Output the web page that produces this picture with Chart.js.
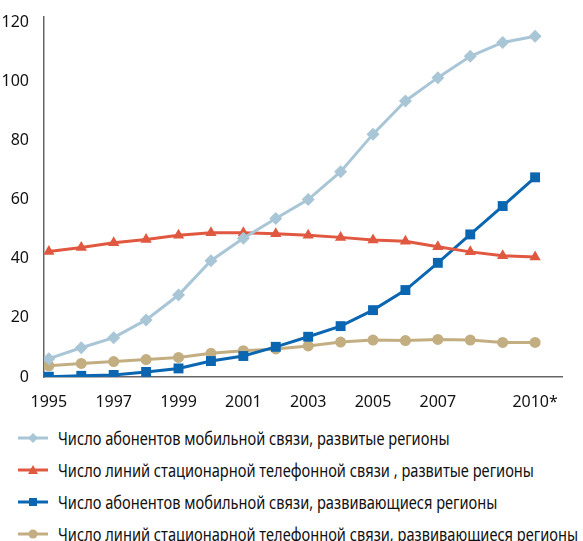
<!DOCTYPE html>
<html lang="ru">
<head>
  <meta charset="UTF-8">
  <title>Телефонная и мобильная связь, 1995–2010</title>
  <style>
    body {
      margin: 0;
      background: #fff;
      font-family: "Noto Sans", sans-serif;
    }
    #wrap { position: relative; width: 583px; height: 541px; overflow: hidden; }
    #chart { position: absolute; left: 0; top: 0; }
    #legend { position: absolute; left: 18px; top: 422px; }
    .item { display: flex; align-items: center; height: 32px; font-size: 18px; color: #111; white-space: nowrap; }
    .item svg { margin-right: 10px; flex: none; }
    .item span { display: inline-block; transform-origin: 0 50%; }
  </style>
  <script src="https://cdn.jsdelivr.net/npm/chart.js"></script>
</head>
<body>
<div id="wrap">
  <canvas id="chart" width="583" height="410"></canvas>
  <div id="legend"></div>
</div>

<script>
  const years = [1995, 1996, 1997, 1998, 1999, 2000, 2001, 2002, 2003, 2004, 2005, 2006, 2007, 2008, 2009, 2010];
  const xTicks = [1995, 1997, 1999, 2001, 2003, 2005, 2007, 2010];
  const yTicks = [0, 20, 40, 60, 80, 100, 120];

  const mobileDeveloped = [6.2, 9.9, 13.3, 19.3, 27.7, 39.3, 46.9, 53.6, 60.0, 69.4, 82.1, 93.3, 101.2, 108.4, 113.1, 115.2];
  const fixedDeveloped = [42.4, 43.8, 45.4, 46.5, 47.9, 48.8, 48.8, 48.4, 47.9, 47.2, 46.3, 45.9, 44.0, 42.3, 41.0, 40.6];
  const mobileDeveloping = [0.1, 0.4, 0.7, 1.7, 2.9, 5.4, 7.1, 10.2, 13.6, 17.2, 22.6, 29.4, 38.6, 48.2, 57.8, 67.5];
  const fixedDeveloping = [3.8, 4.6, 5.2, 5.9, 6.6, 8.0, 8.9, 9.5, 10.5, 11.8, 12.5, 12.3, 12.7, 12.5, 11.7, 11.7];

  const labels = [
    'Число абонентов мобильной связи, развитые регионы',
    'Число линий стационарной телефонной связи , развитые регионы',
    'Число абонентов мобильной связи, развивающиеся регионы',
    'Число линий стационарной телефонной связи, развивающиеся регионы'
  ];

  const pts = arr => arr.map((v, i) => ({ x: years[i], y: v }));

  const series = [
    { label: labels[0], data: pts(mobileDeveloped), color: '#a9c6d6', style: 'rectRot', r: 6.5 },
    { label: labels[1], data: pts(fixedDeveloped), color: '#e0583f', style: 'triangle', r: 6.5 },
    { label: labels[2], data: pts(mobileDeveloping), color: '#0b66b2', style: 'rect', r: 7 },
    { label: labels[3], data: pts(fixedDeveloping), color: '#c3ae82', style: 'circle', r: 5.5 }
  ];

  const tickFont = { family: '"Noto Sans", sans-serif', size: 16 };

  new Chart(document.getElementById('chart'), {
    type: 'line',
    data: {
      datasets: series.map(s => ({
        label: s.label,
        data: s.data,
        borderColor: s.color,
        backgroundColor: s.color,
        borderWidth: 3,
        pointStyle: s.style,
        pointRadius: s.r,
        pointBorderWidth: 0,
        tension: 0
      }))
    },
    options: {
      responsive: false,
      animation: false,
      layout: { padding: { top: 17, right: 21, left: 0, bottom: 0 } },
      plugins: { legend: { display: false }, tooltip: { enabled: false } },
      scales: {
        x: {
          type: 'linear',
          min: 1994.85,
          max: 2010.83,
          grid: { display: false },
          border: { color: '#666', width: 1.5 },
          afterBuildTicks: s => { s.ticks = xTicks.map(v => ({ value: v })); },
          afterFit: s => { s.height = 33; },
          ticks: {
            color: '#111',
            font: tickFont,
            padding: 8,
            maxRotation: 0,
            autoSkip: false,
            callback: v => v === 2010 ? '2010*' : String(v)
          }
        },
        y: {
          min: 0,
          max: 121.7,
          grid: { display: false },
          border: { color: '#666', width: 1.5 },
          afterBuildTicks: s => { s.ticks = yTicks.map(v => ({ value: v })); },
          afterFit: s => { s.width = 44; },
          ticks: { color: '#111', font: tickFont, padding: 7 }
        }
      }
    }
  });

  // legend: line with marker in the middle
  const shape = (s) => {
    const c = s.color;
    if (s.style === 'rectRot') return `<polygon points="15,0 20,5 15,10 10,5" fill="${c}"/>`;
    if (s.style === 'triangle') return `<polygon points="15,0 20,9 10,9" fill="${c}"/>`;
    if (s.style === 'rect') return `<rect x="11" y="1" width="8" height="8" fill="${c}"/>`;
    return `<circle cx="15" cy="5" r="4.5" fill="${c}"/>`;
  };
  const legend = document.getElementById('legend');
  legend.innerHTML = series.map(s =>
    `<div class="item"><svg width="30" height="10"><line x1="0" y1="5" x2="30" y2="5" stroke="${s.color}" stroke-width="3"/>${shape(s)}</svg><span>${s.label}</span></div>`
  ).join('');

  // condensed look: squeeze text so the longest line fits like the original
  const spans = [...legend.querySelectorAll('span')];
  const widest = Math.max(...spans.map(el => el.getBoundingClientRect().width));
  const k = 520 / widest;
  spans.forEach(el => { el.style.transform = `scaleX(${k})`; });
</script>
</body>
</html>
